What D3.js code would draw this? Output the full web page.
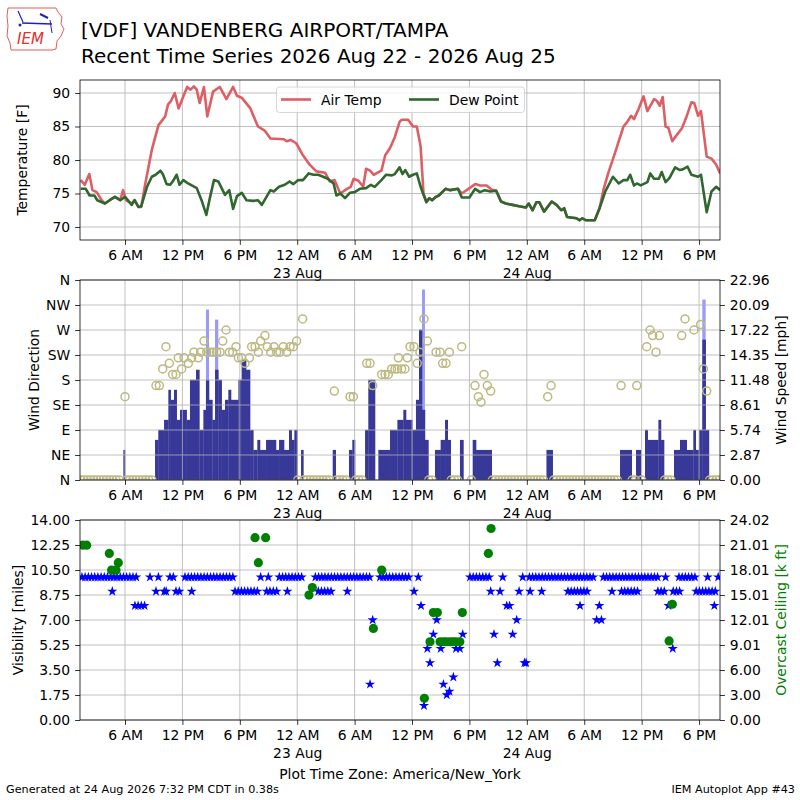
<!DOCTYPE html>
<html>
<head>
<meta charset="utf-8">
<script src="https://cdn.jsdelivr.net/npm/d3@7"></script>
<style>
body { margin: 0; background: #fff; }
text { font-family: "DejaVu Sans", sans-serif; }
</style>
</head>
<body>
<svg id="board" width="800" height="800"></svg>
<script>
// times are hours since 2026-08-22 00:00 America/New_York

// air temperature [F]
let tempHour = [1.37, 1.8, 2.27, 2.6, 3.04, 3.56, 3.9, 4.4, 4.95, 5.5, 5.8, 6.1, 6.7, 7.0, 7.4, 7.7, 8.1, 8.8, 9.5, 10.2, 10.5, 10.8, 11.2, 11.6, 12.1, 12.5, 12.85, 13.2, 13.5, 13.8, 14.25, 14.6, 15.2, 15.9, 16.6, 17.3, 17.7, 18.2, 19.1, 19.9, 20.6, 21.2, 22.6, 22.9, 23.3, 23.9, 24.6, 25.3, 26.0, 26.9, 27.4, 27.9, 28.5, 29.2, 29.6, 29.9, 30.4, 30.9, 31.2, 31.6, 32.0, 32.8, 33.2, 33.7, 34.2, 34.7, 34.9, 35.6, 36.1, 36.5, 36.9, 37.2, 37.5, 37.8, 38.1, 38.5, 38.8, 39.5, 40.0, 40.8, 41.2, 41.9, 42.6, 43.1, 43.8, 44.3, 44.8, 45.3, 45.8, 46.5, 47.2, 47.9, 48.2, 48.6, 49.0, 49.3, 49.8, 50.6, 51.1, 51.6, 51.9, 52.2, 53.2, 53.5, 53.8, 54.2, 55.1, 55.6, 56.0, 56.5, 57.2, 58.1, 58.5, 58.9, 59.2, 59.7, 60.2, 60.6, 61.3, 61.6, 61.9, 62.2, 62.5, 62.8, 63.2, 63.6, 64.2, 64.7, 65.2, 65.5, 65.9, 66.2, 66.8, 67.3, 67.8, 68.2]
let tempF = [77.0, 76.3, 77.9, 75.5, 75.2, 74.0, 73.5, 74.0, 74.5, 74.0, 75.5, 74.0, 73.5, 74.0, 73.0, 73.0, 76.3, 81.5, 85.2, 86.5, 88.3, 88.8, 90.0, 87.7, 89.5, 90.9, 90.5, 91.0, 90.5, 88.5, 90.9, 86.5, 90.2, 90.9, 89.1, 90.9, 89.6, 89.3, 87.7, 85.0, 84.4, 83.2, 83.1, 82.8, 83.0, 82.5, 80.7, 79.3, 78.3, 78.1, 76.8, 77.0, 75.0, 75.7, 76.0, 77.2, 76.9, 76.0, 78.7, 78.4, 77.8, 78.4, 80.7, 81.8, 83.4, 85.7, 86.0, 86.0, 85.0, 85.0, 82.0, 75.0, 73.8, 74.3, 74.0, 74.5, 74.7, 75.7, 75.5, 75.7, 75.0, 75.7, 76.4, 76.2, 76.2, 75.6, 75.4, 73.8, 73.5, 73.3, 73.1, 72.9, 73.5, 72.5, 73.7, 73.7, 72.3, 73.8, 73.3, 72.5, 72.8, 71.5, 71.3, 71.0, 71.3, 71.0, 71.0, 72.8, 75.5, 78.0, 81.0, 85.0, 85.7, 86.6, 86.1, 87.7, 89.5, 87.3, 89.1, 88.8, 88.1, 89.4, 85.0, 84.8, 82.8, 83.6, 84.7, 86.5, 88.6, 88.5, 86.6, 87.3, 80.5, 80.2, 79.3, 78.0]

// dew point [F]
let dewHour = [1.37, 1.9, 2.3, 2.8, 3.1, 3.9, 4.4, 4.95, 5.5, 6.0, 6.3, 6.7, 7.0, 7.4, 7.7, 8.3, 8.8, 9.2, 9.7, 9.95, 10.35, 10.7, 11.0, 11.4, 11.7, 12.1, 12.6, 13.5, 14.0, 14.5, 14.85, 15.3, 15.75, 16.45, 16.9, 17.3, 17.7, 18.2, 18.7, 19.4, 19.9, 20.3, 21.2, 21.55, 22.1, 22.7, 23.2, 23.6, 24.1, 24.6, 25.2, 25.7, 26.2, 26.7, 27.2, 27.8, 28.1, 28.5, 29.0, 29.5, 30.0, 30.55, 31.2, 31.7, 32.1, 32.8, 33.3, 33.9, 34.2, 34.7, 35.0, 35.3, 35.7, 36.1, 36.5, 36.9, 37.2, 37.5, 37.8, 38.1, 38.5, 38.8, 39.5, 40.0, 40.8, 41.2, 42.0, 42.6, 43.1, 43.6, 44.2, 44.8, 45.3, 45.8, 46.5, 47.2, 47.9, 48.2, 48.6, 49.0, 49.3, 49.8, 50.6, 51.1, 51.6, 51.9, 52.2, 53.2, 53.5, 53.8, 54.2, 55.1, 55.6, 56.2, 57.0, 57.6, 58.1, 58.5, 58.8, 59.2, 59.5, 59.9, 60.6, 60.9, 61.3, 61.8, 62.1, 62.5, 62.9, 63.5, 64.0, 64.3, 64.8, 65.2, 65.9, 66.2, 66.8, 67.3, 67.8, 68.2]
let dewF = [75.7, 75.7, 74.7, 74.7, 74.0, 73.5, 74.0, 74.5, 74.0, 74.5, 74.0, 73.3, 74.0, 73.0, 73.1, 76.0, 77.5, 77.8, 78.4, 77.9, 76.4, 76.3, 76.8, 77.8, 76.3, 77.0, 76.5, 75.8, 74.0, 71.8, 74.2, 77.0, 76.8, 74.8, 75.5, 72.7, 74.6, 75.1, 74.0, 73.9, 74.0, 73.3, 75.5, 75.3, 76.0, 76.3, 76.8, 76.4, 77.0, 77.0, 78.0, 77.8, 77.8, 77.5, 77.2, 76.5, 74.7, 75.0, 74.3, 75.1, 75.2, 75.7, 75.8, 76.3, 76.0, 77.0, 77.8, 77.7, 77.9, 78.9, 77.9, 78.5, 77.5, 77.8, 78.0, 76.0, 74.8, 73.7, 74.3, 74.0, 74.5, 74.7, 75.7, 75.5, 75.7, 74.4, 74.4, 75.7, 75.2, 75.5, 75.3, 75.4, 73.8, 73.5, 73.3, 73.1, 72.9, 73.5, 72.5, 73.7, 73.7, 72.3, 73.8, 73.3, 72.5, 72.8, 71.5, 71.3, 71.0, 71.3, 71.0, 71.0, 72.8, 75.3, 77.5, 76.5, 77.0, 77.0, 77.8, 76.2, 76.5, 76.2, 76.7, 78.0, 77.2, 77.2, 78.2, 76.7, 77.3, 78.9, 78.5, 78.6, 79.0, 77.8, 77.5, 77.8, 72.2, 75.3, 76.0, 75.5]

// sustained wind bars [knots], each from start hour to end hour
let windStart = [5.83, 9.14, 9.48, 10.08, 10.53, 10.77, 11.12, 11.40, 11.75, 12.44, 12.79, 13.42, 13.77, 14.19, 14.46, 14.78, 15.13, 15.41, 15.75, 16.10, 16.45, 16.80, 17.08, 17.85, 18.19, 18.65, 19.07, 19.41, 19.83, 20.11, 20.74, 21.78, 22.10, 22.62, 23.14, 23.42, 23.70, 24.40, 27.71, 29.41, 29.76, 31.09, 31.43, 32.48, 33.70, 34.47, 35.09, 35.37, 36.03, 36.41, 36.73, 37.04, 37.35, 38.40, 38.99, 39.45, 39.73, 41.01, 42.34, 42.69, 50.05, 57.74, 59.41, 60.35, 60.63, 61.75, 62.02, 63.38, 64.01, 64.71, 65.40, 65.65, 66.00, 66.34, 66.69]
let windEnd = [6.00, 9.48, 10.08, 10.53, 10.77, 11.12, 11.40, 11.75, 12.44, 12.79, 13.42, 13.77, 14.19, 14.46, 14.78, 15.13, 15.41, 15.75, 16.10, 16.45, 16.80, 17.08, 17.85, 18.19, 18.65, 19.07, 19.41, 19.83, 20.11, 20.74, 21.78, 22.10, 22.62, 23.14, 23.42, 23.70, 24.01, 24.64, 28.02, 29.76, 30.04, 31.43, 32.13, 33.70, 34.47, 35.09, 35.37, 36.03, 36.41, 36.73, 37.04, 37.35, 37.71, 38.99, 39.45, 39.73, 40.04, 41.37, 42.69, 44.33, 50.70, 58.96, 59.93, 60.63, 61.75, 62.02, 62.34, 64.01, 64.71, 65.40, 65.65, 66.00, 66.34, 66.69, 67.03]
let windKnots = [3, 4, 5, 6, 9, 8, 9, 6, 7, 6, 10, 11, 5, 7, 10, 8, 6, 11, 10, 7, 8, 9, 8, 10, 12, 11, 5, 3, 4, 3, 4, 3, 4, 3, 5, 4, 5, 3, 3, 3, 4, 5, 10, 3, 5, 6, 7, 6, 5, 8, 15, 7, 4, 3, 4, 6, 4, 4, 4, 3, 3, 3, 3, 5, 4, 6, 4, 3, 4, 3, 5, 3, 5, 14, 5]

// gusts [knots]
let gustStart = [14.46, 15.41, 37.04, 66.34]
let gustEnd = [14.78, 15.75, 37.35, 66.69]
let gustKnots = [17, 16, 19, 18]

// wind direction [deg]
let dirHour = [6.00, 9.24, 9.59, 9.94, 10.28, 10.63, 10.98, 11.33, 11.57, 11.92, 12.17, 12.62, 12.97, 13.21, 13.66, 13.91, 14.26, 14.54, 14.88, 15.23, 15.58, 15.93, 16.21, 16.56, 16.91, 17.25, 17.60, 17.85, 18.19, 18.54, 19.00, 19.24, 19.59, 19.94, 20.18, 20.63, 20.88, 21.23, 21.57, 21.85, 22.20, 22.55, 22.90, 23.25, 23.60, 23.94, 24.57, 27.88, 29.52, 29.87, 31.26, 31.61, 31.89, 32.83, 33.18, 33.52, 33.87, 34.22, 34.47, 34.57, 34.91, 35.26, 35.51, 35.79, 36.20, 36.55, 36.83, 37.25, 37.60, 38.51, 38.93, 39.20, 39.55, 39.90, 41.19, 42.58, 42.93, 43.21, 43.52, 43.87, 44.22, 50.18, 50.53, 57.85, 59.49, 60.53, 60.88, 61.15, 61.50, 61.85, 64.19, 64.53, 65.47, 66.17, 66.45, 66.80]
let dirDeg = [150, 170, 170, 200, 240, 210, 190, 190, 220, 200, 220, 210, 220, 230, 220, 230, 250, 230, 230, 230, 230, 230, 250, 270, 230, 230, 240, 220, 220, 210, 220, 240, 240, 230, 250, 260, 240, 230, 240, 230, 230, 240, 230, 240, 240, 250, 290, 160, 150, 150, 210, 210, 170, 190, 190, 190, 200, 200, 200, 220, 200, 200, 220, 240, 240, 210, 230, 290, 250, 230, 230, 210, 210, 230, 240, 170, 150, 140, 190, 170, 160, 150, 170, 170, 170, 240, 270, 260, 230, 260, 260, 290, 270, 280, 200, 160]

// calm periods (direction plotted as N at 0)
let calmStart = [1.4, 6.15, 24.05, 24.7, 28.1, 30.1, 37.75, 40.1, 42.2, 44.4, 50.8, 59.0, 60.0, 62.4, 67.1]
let calmEnd = [5.7, 9.1, 24.35, 27.6, 29.3, 31.0, 38.35, 40.9, 42.2, 50.0, 57.7, 59.35, 60.3, 63.3, 68.2]

// visibility [miles]: steady runs and single reports
let visRunStart = [1.5, 7.04, 12.27, 17.5, 22.13, 25.9, 26.2, 32.65, 42.06, 48.27, 52.3, 56.0, 57.9, 60.0, 61.7, 63.3, 63.9, 65.7]
let visRunEnd = [7.2, 8.3, 17.5, 20.1, 24.64, 31.6, 27.6, 35.96, 44.15, 55.0, 54.4, 59.8, 59.8, 61.7, 62.6, 64.2, 65.8, 68.0]
let visRunMiles = [10, 8, 10, 9, 10, 10, 9, 10, 10, 10, 9, 10, 9, 10, 9, 9, 10, 9]
let visHour = [8.61, 9.49, 10.70, 11.05, 4.67, 9.24, 10.1, 10.3, 11.33, 11.68, 12.97, 20.18, 20.98, 20.81, 21.15, 21.5, 21.85, 22.97, 29.24, 36.21, 36.66, 44.22, 45.2, 45.48, 47.19, 47.57, 48.34, 49.55, 56.9, 62.5, 66.9, 68.0, 36.94, 45.9, 46.2, 53.56, 55.58, 62.8, 67.6, 31.89, 38.58, 46.94, 55.3, 55.8, 38.23, 41.3, 44.57, 46.52, 37.6, 39.0, 40.6, 41.0, 63.25, 37.88, 44.92, 47.75, 47.92, 40.32, 31.61, 39.28, 39.91, 39.63, 37.25]
let visMiles = [10, 10, 10, 10, 9, 9, 9, 9, 9, 9, 9, 10, 10, 9, 9, 9, 9, 9, 9, 9, 10, 9, 9, 10, 9, 10, 9, 9, 9, 10, 10, 10, 8, 8, 8, 8, 8, 8, 8, 7, 7, 7, 7, 7, 6, 6, 6, 6, 5, 5, 5, 5, 5, 4, 4, 4, 4, 3, 2.5, 2.5, 2, 1.75, 1]

// overcast ceiling [k ft]
let ceilHour = [1.57, 1.99, 4.36, 4.60, 5.06, 5.30, 19.59, 19.94, 20.70, 25.23, 25.58, 31.96, 32.83, 37.29, 37.88, 38.23, 38.65, 38.93, 39.3, 39.6, 40.0, 40.3, 40.6, 41.0, 41.26, 43.98, 44.26, 62.87, 63.21]
let ceilKft = [21.0, 21.0, 20.0, 18.0, 18.0, 18.9, 21.9, 18.9, 21.9, 15.0, 15.9, 11.0, 18.0, 2.6, 9.4, 12.9, 12.9, 9.4, 9.4, 9.4, 9.4, 9.4, 9.4, 9.4, 12.9, 20.0, 23.0, 9.5, 13.9]

// axis ticks
let tickHours = [6, 12, 18, 24, 30, 36, 42, 48, 54, 60, 66]
let tempTicks = [70, 75, 80, 85, 90]
let dirTicks = [0, 45, 90, 135, 180, 225, 270, 315, 360]
let dirLabels = ['N', 'NE', 'E', 'SE', 'S', 'SW', 'W', 'NW', 'N']
let speedLabels = ['0.00', '2.87', '5.74', '8.61', '11.48', '14.35', '17.22', '20.09', '22.96']
let visLabels = ['0.00', '1.75', '3.50', '5.25', '7.00', '8.75', '10.50', '12.25', '14.00']
let ceilLabels = ['0.00', '3.00', '6.00', '9.01', '12.01', '15.01', '18.01', '21.01', '24.02']

let board = d3.select('#board')
let fs = 13.9
let gridColor = '#b0b0b0'
let L = 80, R = 720

let baseMs = Date.UTC(2026, 7, 22, 0, 0)
let hToDate = (h) => new Date(baseMs + h * 3600e3)
let x = d3.scaleUtc().domain([hToDate(1.296), hToDate(68.19)]).range([L, R])

// expand runs into reports every 20 minutes
let expand = (s, e) => d3.range(s, e + 0.01, 1 / 3)

let panels = [
    {top: 80, bottom: 240},
    {top: 280, bottom: 480},
    {top: 520, bottom: 720}
]

panels.forEach((p, i) => {
    board.append('clipPath').attr('id', 'clip' + i)
        .append('rect').attr('x', L).attr('y', p.top).attr('width', R - L).attr('height', p.bottom - p.top)
})

let vGrid = function(g, p) {
    g.selectAll('line.vg')
        .data(tickHours)
        .enter()
        .append('line')
        .attr('x1', (h) => x(hToDate(h)))
        .attr('x2', (h) => x(hToDate(h)))
        .attr('y1', p.top).attr('y2', p.bottom)
        .attr('stroke', gridColor).attr('stroke-width', 0.8)
}

let hGrid = function(g, scale, vals) {
    g.selectAll('line.hg')
        .data(vals)
        .enter()
        .append('line')
        .attr('x1', L).attr('x2', R)
        .attr('y1', (v) => scale(v)).attr('y2', (v) => scale(v))
        .attr('stroke', gridColor).attr('stroke-width', 0.8)
}

let xAxis = function(p) {
    let ax = d3.axisBottom(x)
        .tickValues(tickHours.map(hToDate))
        .tickSize(4.9).tickSizeOuter(0).tickPadding(4.9)
        .tickFormat((d) => {
            let hr = d.getUTCHours()
            if (hr === 0) return '12 AM'
            if (hr === 12) return '12 PM'
            return (hr % 12) + (hr < 12 ? ' AM' : ' PM')
        })
    let g = board.append('g').attr('transform', 'translate(0,' + p.bottom + ')').call(ax)
    g.select('.domain').remove()
    g.selectAll('line').attr('stroke', '#000').attr('stroke-width', 0.8)
    g.selectAll('text')
        .attr('font-size', fs).attr('font-family', 'DejaVu Sans').attr('fill', '#000')
        .each(function(d) {
            if (d.getUTCHours() === 0) {
                d3.select(this).append('tspan').attr('x', 0).attr('dy', '1.3em')
                    .text(d3.utcFormat('%-d %b')(d))
            }
        })
}

let yAxis = function(p, scale, vals, labels, side) {
    let ax = (side === 'left' ? d3.axisLeft(scale) : d3.axisRight(scale))
        .tickValues(vals).tickSize(4.9).tickSizeOuter(0).tickPadding(4.9)
        .tickFormat((d, i) => labels ? labels[i] : d)
    let g = board.append('g')
        .attr('transform', 'translate(' + (side === 'left' ? L : R) + ',0)')
        .call(ax)
    g.select('.domain').remove()
    g.selectAll('line').attr('stroke', '#000').attr('stroke-width', 0.8)
    g.selectAll('text').attr('font-size', fs).attr('font-family', 'DejaVu Sans').attr('fill', '#000')
}

let frame = function(p) {
    board.append('rect')
        .attr('x', L).attr('y', p.top).attr('width', R - L).attr('height', p.bottom - p.top)
        .attr('fill', 'none').attr('stroke', '#000').attr('stroke-width', 0.8)
}

let yLabel = function(txt, xpos, ycen, color) {
    board.append('text')
        .attr('transform', 'translate(' + xpos + ',' + ycen + ') rotate(-90)')
        .attr('text-anchor', 'middle')
        .attr('font-size', fs)
        .attr('fill', color || '#000')
        .text(txt)
}

// ---- panel 1: temperatures
let p1 = panels[0]
let yT = d3.scaleLinear().domain([68.06, 91.94]).range([p1.bottom, p1.top])
let g1 = board.append('g')
vGrid(g1, p1)
hGrid(g1, yT, tempTicks)
let lines = board.append('g').attr('clip-path', 'url(#clip0)')
let tempLine = d3.line().x((d) => x(hToDate(d[0]))).y((d) => yT(d[1]))
lines.append('path')
    .attr('d', tempLine(d3.zip(tempHour, tempF)))
    .attr('fill', 'none').attr('stroke', '#dc5f66').attr('stroke-width', 2.6).attr('stroke-linejoin', 'round')
lines.append('path')
    .attr('d', tempLine(d3.zip(dewHour, dewF)))
    .attr('fill', 'none').attr('stroke', '#2f672f').attr('stroke-width', 2.6).attr('stroke-linejoin', 'round')
frame(p1)
xAxis(p1)
yAxis(p1, yT, tempTicks, null, 'left')
yLabel('Temperature [F]', 27, 160)

let legend = board.append('g')
legend.append('rect')
    .attr('x', 276.5).attr('y', 87).attr('width', 248).attr('height', 25.5).attr('rx', 3)
    .attr('fill', '#fff').attr('fill-opacity', 0.8).attr('stroke', '#cccccc').attr('stroke-width', 0.8)
let legendItems = [['Air Temp', '#dc5f66', 281], ['Dew Point', '#2f672f', 409]]
legendItems.forEach((it) => {
    legend.append('line').attr('x1', it[2]).attr('x2', it[2] + 30).attr('y1', 99.5).attr('y2', 99.5)
        .attr('stroke', it[1]).attr('stroke-width', 2.6)
    legend.append('text').attr('x', it[2] + 40).attr('y', 104.5).attr('font-size', fs).text(it[0])
})

// ---- panel 2: wind
let p2 = panels[1]
let yDir = d3.scaleLinear().domain([0, 360]).range([p2.bottom, p2.top])
let ySpd = d3.scaleLinear().domain([0, 22.96]).range([p2.bottom, p2.top])
let ktToMph = 1.15078
let g2 = board.append('g').attr('clip-path', 'url(#clip1)')
g2.selectAll('rect.gust')
    .data(d3.range(gustStart.length))
    .enter()
    .append('rect')
    .attr('x', (i) => x(hToDate(gustStart[i])))
    .attr('width', (i) => x(hToDate(gustEnd[i])) - x(hToDate(gustStart[i])))
    .attr('y', (i) => ySpd(gustKnots[i] * ktToMph))
    .attr('height', (i) => p2.bottom - ySpd(gustKnots[i] * ktToMph))
    .attr('fill', '#9a9af8')
g2.selectAll('rect.wind')
    .data(d3.range(windStart.length))
    .enter()
    .append('rect')
    .attr('x', (i) => x(hToDate(windStart[i])))
    .attr('width', (i) => x(hToDate(windEnd[i])) - x(hToDate(windStart[i])) + 0.3)
    .attr('y', (i) => ySpd(windKnots[i] * ktToMph))
    .attr('height', (i) => p2.bottom - ySpd(windKnots[i] * ktToMph))
    .attr('fill', '#383898')
let g2grid = board.append('g')
vGrid(g2grid, p2)
hGrid(g2grid, yDir, dirTicks)
let circColor = '#bdba80'
let calmHours = []
calmStart.forEach((s, i) => { calmHours = calmHours.concat(expand(s, calmEnd[i])) })
g2.selectAll('circle.calm')
    .data(calmHours)
    .enter()
    .append('circle')
    .attr('cx', (h) => x(hToDate(h))).attr('cy', yDir(0)).attr('r', 4)
    .attr('fill', 'none').attr('stroke', circColor).attr('stroke-width', 1.5)
g2.selectAll('circle.dir')
    .data(d3.zip(dirHour, dirDeg))
    .enter()
    .append('circle')
    .attr('cx', (d) => x(hToDate(d[0]))).attr('cy', (d) => yDir(d[1])).attr('r', 4)
    .attr('fill', 'none').attr('stroke', circColor).attr('stroke-width', 1.5)
frame(p2)
xAxis(p2)
yAxis(p2, yDir, dirTicks, dirLabels, 'left')
yAxis(p2, ySpd, speedLabels.map(Number), speedLabels, 'right')
yLabel('Wind Direction', 39, 380)
yLabel('Wind Speed [mph]', 786, 380)

// ---- panel 3: visibility and ceiling
let p3 = panels[2]
let yVis = d3.scaleLinear().domain([0, 14]).range([p3.bottom, p3.top])
let yCeil = d3.scaleLinear().domain([0, 24.02]).range([p3.bottom, p3.top])
let g3grid = board.append('g')
vGrid(g3grid, p3)
hGrid(g3grid, yVis, visLabels.map(Number))
let visPts = d3.zip(visHour, visMiles)
visRunStart.forEach((s, i) => {
    expand(s, visRunEnd[i]).forEach((h) => visPts.push([h, visRunMiles[i]]))
})
let g3 = board.append('g').attr('clip-path', 'url(#clip2)')
let star = d3.symbol().type(d3.symbolStar).size(32)
g3.selectAll('path.vis')
    .data(visPts)
    .enter()
    .append('path')
    .attr('d', star)
    .attr('transform', (d) => 'translate(' + x(hToDate(d[0])) + ',' + yVis(d[1]) + ')')
    .attr('fill', '#0000ff')
g3.selectAll('circle.ceil')
    .data(d3.zip(ceilHour, ceilKft))
    .enter()
    .append('circle')
    .attr('cx', (d) => x(hToDate(d[0]))).attr('cy', (d) => yCeil(d[1])).attr('r', 4.6)
    .attr('fill', '#008000')
frame(p3)
xAxis(p3)
yAxis(p3, yVis, visLabels.map(Number), visLabels, 'left')
yAxis(p3, yCeil, ceilLabels.map((v, i) => 24.02 * i / 8), ceilLabels, 'right')
yLabel('Visibility [miles]', 23, 620)
yLabel('Overcast Ceiling [k ft]', 786, 620, '#008000')

// ---- titles and footer
board.append('text').attr('x', 81).attr('y', 37).attr('font-size', 20)
    .text('[VDF] VANDENBERG AIRPORT/TAMPA')
board.append('text').attr('x', 81).attr('y', 63).attr('font-size', 20)
    .text('Recent Time Series 2026 Aug 22 - 2026 Aug 25')
board.append('text').attr('x', 400).attr('y', 779).attr('font-size', fs).attr('text-anchor', 'middle')
    .text('Plot Time Zone: America/New_York')
board.append('text').attr('x', 6).attr('y', 793).attr('font-size', 11.2)
    .text('Generated at 24 Aug 2026 7:32 PM CDT in 0.38s')
board.append('text').attr('x', 795).attr('y', 793).attr('font-size', 11.2).attr('text-anchor', 'end')
    .text('IEM Autoplot App #43')

// IEM logo
let logo = board.append('g')
logo.append('path')
    .attr('d', 'M8,8 L56,8 L58,12 L62,17 L61,24 L64,29 L61,36 L57,41 L56,49 L52,50 L11,50 L10,43 L7,36 L8,26 L7,16 Z')
    .attr('fill', 'none').attr('stroke', '#e03030').attr('stroke-width', 0.8)
logo.append('line').attr('x1', 22).attr('y1', 23).attr('x2', 52).attr('y2', 24)
    .attr('stroke', '#2020c0').attr('stroke-width', 1.5)
logo.append('line').attr('x1', 18).attr('y1', 11).attr('x2', 23).attr('y2', 22)
    .attr('stroke', '#2020c0').attr('stroke-width', 1.2)
logo.append('line').attr('x1', 40).attr('y1', 14).attr('x2', 48).attr('y2', 18)
    .attr('stroke', '#2020c0').attr('stroke-width', 2)
logo.append('line').attr('x1', 50).attr('y1', 20).attr('x2', 52).attr('y2', 33)
    .attr('stroke', '#2020c0').attr('stroke-width', 1)
logo.append('circle').attr('cx', 20).attr('cy', 25).attr('r', 1.5).attr('fill', '#2020c0')
logo.append('text').attr('x', 17).attr('y', 44).attr('font-size', 15)
    .attr('font-family', 'Liberation Serif').attr('font-style', 'italic').attr('fill', '#e03030')
    .text('IEM')
</script>
</body>
</html>
